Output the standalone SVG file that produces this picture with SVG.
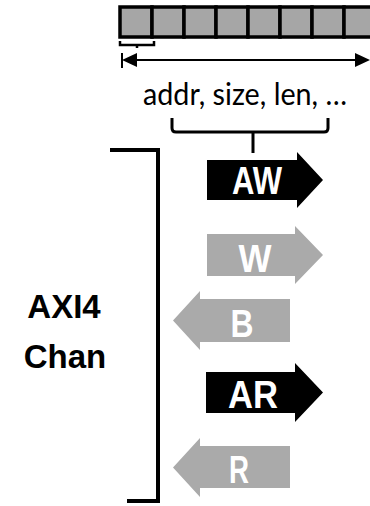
<svg xmlns="http://www.w3.org/2000/svg" width="370" height="506" viewBox="0 0 370 506">
<style>
.cell{fill:#a6a6a6;stroke:#000;stroke-width:3.5}
.ln{fill:none;stroke:#000;stroke-linecap:butt}
.lbl{font-family:"Liberation Sans",Arial,sans-serif;font-weight:bold;font-size:38px;text-anchor:middle}
.dark{fill:#000}
.light{fill:#aaaaaa}
</style>
<rect width="370" height="506" fill="#fff"/>
<g id="register">
<rect class="cell" x="120" y="7" width="32" height="30"/>
<rect class="cell" x="152" y="7" width="32" height="30"/>
<rect class="cell" x="184" y="7" width="32" height="30"/>
<rect class="cell" x="216" y="7" width="32" height="30"/>
<rect class="cell" x="248" y="7" width="32" height="30"/>
<rect class="cell" x="280" y="7" width="32" height="30"/>
<rect class="cell" x="312" y="7" width="32" height="30"/>
<rect class="cell" x="344" y="7" width="32" height="30"/>
<path class="ln" stroke-width="2.5" d="M120,41 V45 H154 V41 M137,45 V48"/>
</g>
<g id="span">
<path class="ln" stroke-width="2" d="M122,53 V68 M130,60 H362"/>
<polygon points="122,60 137,53 137,67" fill="#000"/>
<polygon points="370,60 355,53 355,67" fill="#000"/>
</g>
<g id="fields">
<text x="245" y="105" font-family="Lato,'Open Sans',sans-serif" font-size="30" text-anchor="middle" textLength="204" lengthAdjust="spacingAndGlyphs">addr, size, len, …</text>
<path class="ln" stroke-width="3" d="M172,118 V128 Q172,132 176,132 H324 Q328,132 328,128 V118 M253,132 V153"/>
</g>
<g id="bracket">
<path class="ln" stroke-width="4" d="M110,150 H158 V501 H127"/>
<text x="64" y="318" font-family="Liberation Sans,Arial,sans-serif" font-weight="bold" font-size="33" text-anchor="middle">AXI4</text>
<text x="65" y="368" font-family="Liberation Sans,Arial,sans-serif" font-weight="bold" font-size="33" text-anchor="middle">Chan</text>
</g>
<g id="connectors">
<g id="AW">
<polygon class="dark" points="207,160 297,160 297,152 323,180 297,208 297,200 207,200"/>
<text class="lbl" x="257" y="194" fill="#fff" textLength="50" lengthAdjust="spacingAndGlyphs">AW</text>
</g>
<g id="W">
<polygon class="light" points="207,234 295,234 295,226 323,255 295,284 295,276 207,276"/>
<text class="lbl" x="255" y="272" fill="#fff" textLength="33" lengthAdjust="spacingAndGlyphs">W</text>
</g>
<g id="B">
<polygon class="light" points="290,299 200,299 200,291 173,320.5 200,350 200,342 290,342"/>
<text class="lbl" x="242" y="337" fill="#fff" textLength="23" lengthAdjust="spacingAndGlyphs">B</text>
</g>
<g id="AR">
<polygon class="dark" points="206,372 295,372 295,363 323,392.5 295,422 295,413 206,413"/>
<text class="lbl" x="253" y="408" fill="#fff" textLength="50" lengthAdjust="spacingAndGlyphs">AR</text>
</g>
<g id="R">
<polygon class="light" points="290,446 200,446 200,438 173,467.5 200,497 200,488 290,488"/>
<text class="lbl" x="239" y="483" fill="#fff" textLength="20" lengthAdjust="spacingAndGlyphs">R</text>
</g>
</g>
</svg>
